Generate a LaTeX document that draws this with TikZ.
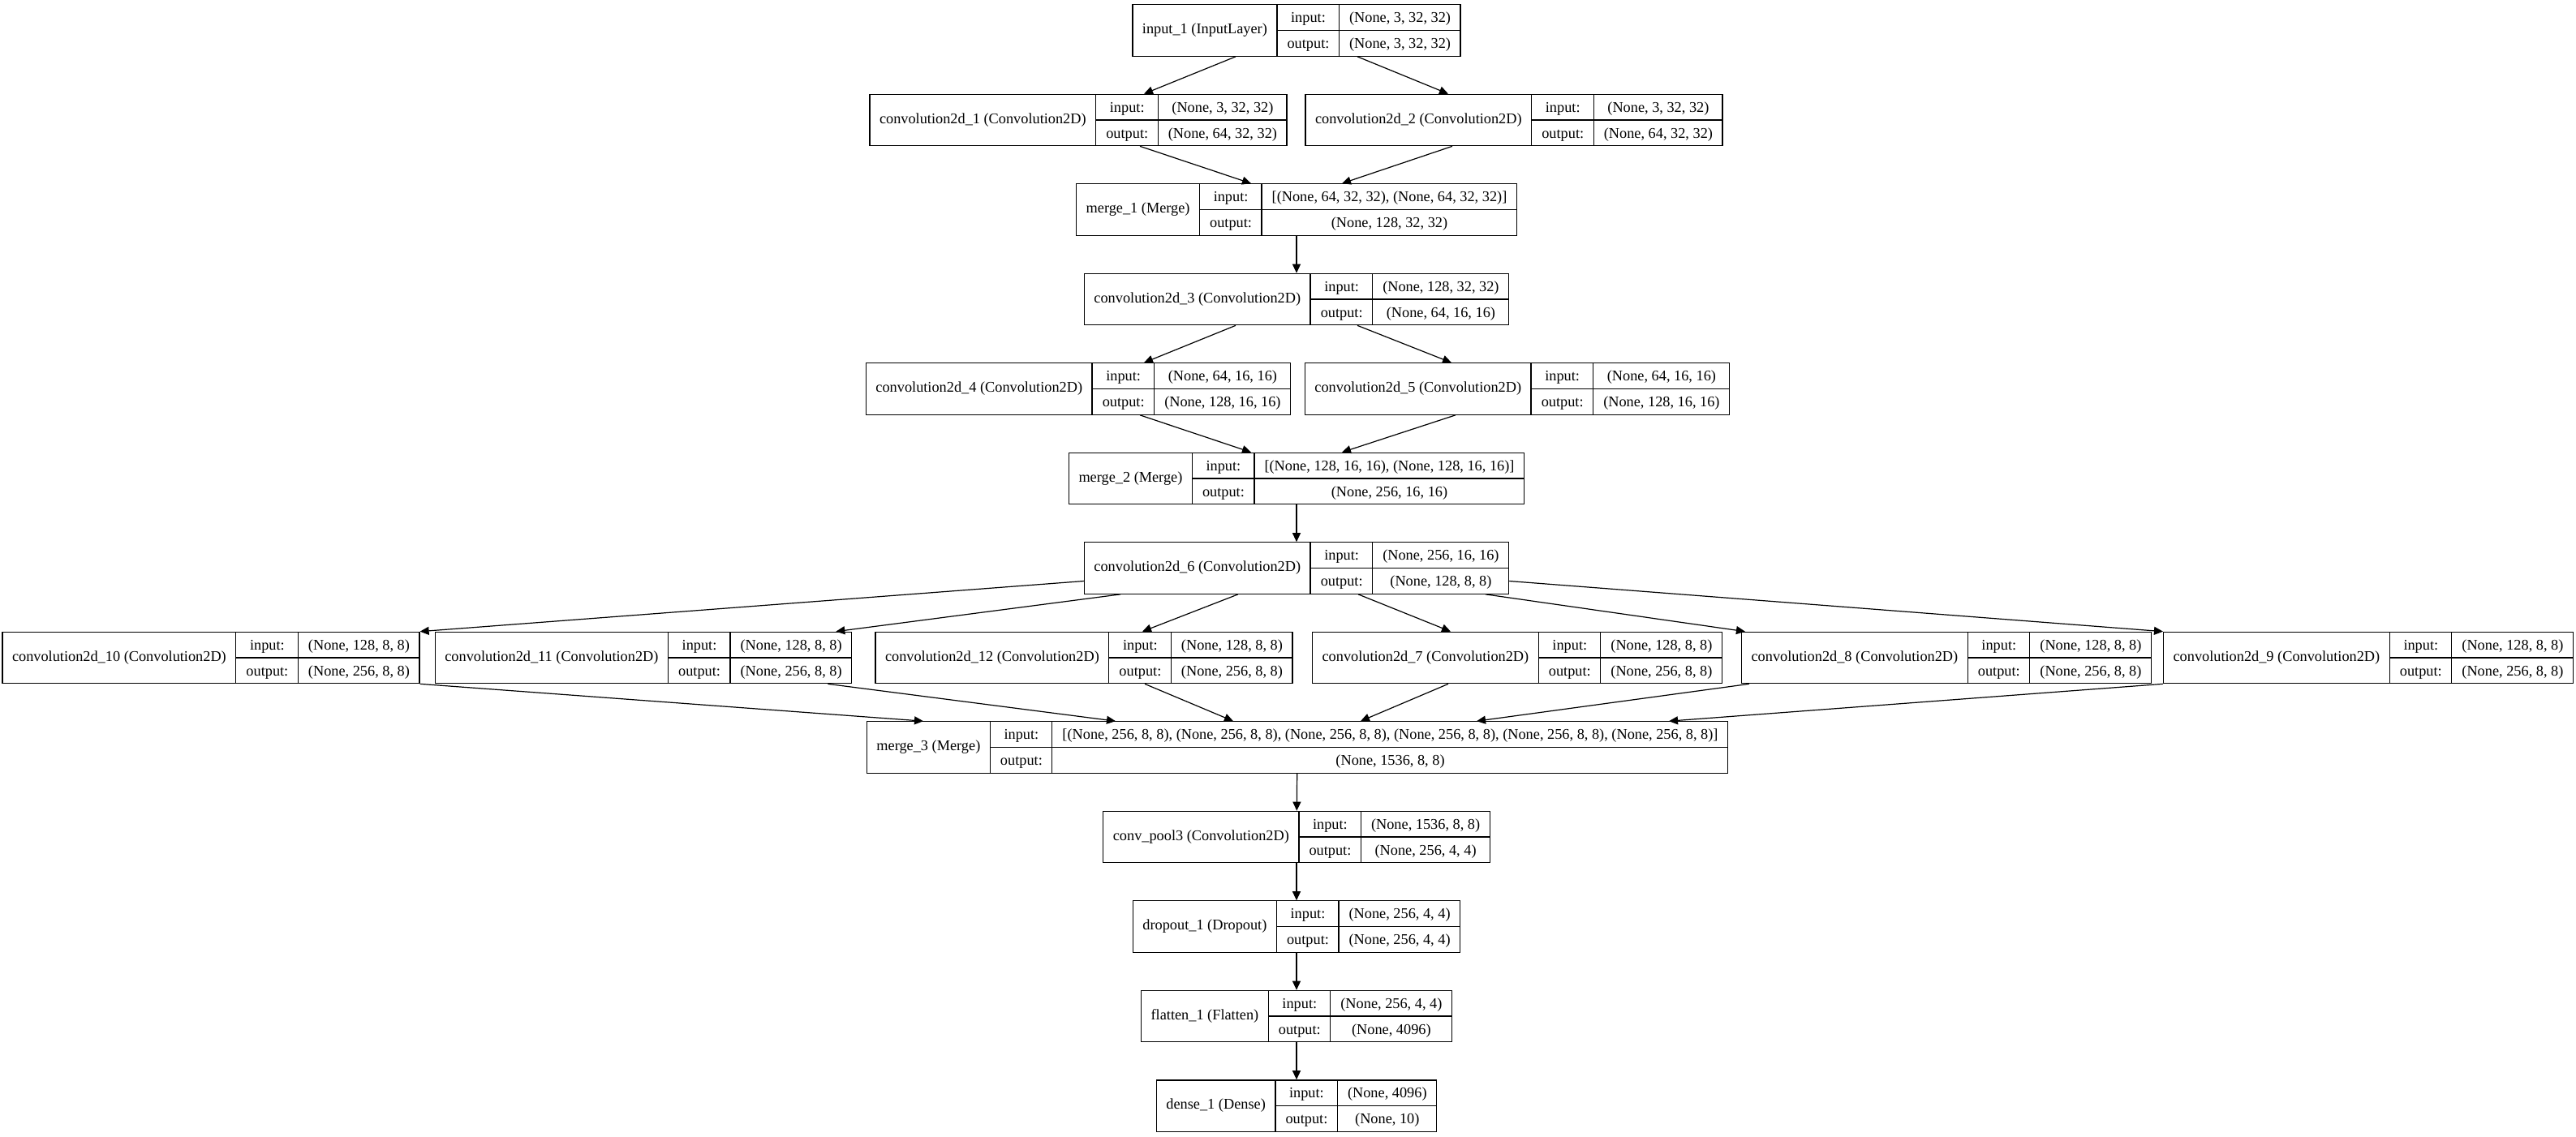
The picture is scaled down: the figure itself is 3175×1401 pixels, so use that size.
\documentclass[tikz,border=0pt]{standalone}
\usepackage{fontspec}
\setmainfont{Liberation Serif}
\usetikzlibrary{arrows.meta}

\renewcommand{\arraystretch}{1.41}
\setlength{\tabcolsep}{12pt}
\setlength{\arrayrulewidth}{1.3pt}

% layer table: name | input:/output: | shapes
\newcommand{\lyr}[3]{%
  \begin{tabular}{c|@{}c@{}|@{}c@{}}
    #1 &
    \begin{tabular}{c} input: \\ \hline output: \end{tabular} &
    \begin{tabular}{c} #2 \\ \hline #3 \end{tabular}
  \end{tabular}}

\tikzset{
  layer/.style={draw, line width=1.3pt, inner sep=0pt, fill=white,
    font=\fontsize{18.3}{22}\selectfont},
  conn/.style={line width=1.2pt, -{Triangle[length=11pt,width=10pt]}},
}

\begin{document}
\begin{tikzpicture}[x=1pt, y=-1pt]

    \fill[white] (0,0) rectangle (3175,1401);

    % Input and first branch
    \node[layer] (in1) at (1598, 37.5) {\lyr{input\_1 (InputLayer)}{(None, 3, 32, 32)}{(None, 3, 32, 32)}};
    \node[layer] (c1) at (1329, 148) {\lyr{convolution2d\_1 (Convolution2D)}{(None, 3, 32, 32)}{(None, 64, 32, 32)}};
    \node[layer] (c2) at (1866, 148) {\lyr{convolution2d\_2 (Convolution2D)}{(None, 3, 32, 32)}{(None, 64, 32, 32)}};
    \node[layer] (m1) at (1598, 258.5) {\lyr{merge\_1 (Merge)}{[(None, 64, 32, 32), (None, 64, 32, 32)]}{(None, 128, 32, 32)}};

    % Second branch
    \node[layer] (c3) at (1598, 369) {\lyr{convolution2d\_3 (Convolution2D)}{(None, 128, 32, 32)}{(None, 64, 16, 16)}};
    \node[layer] (c4) at (1329, 479.5) {\lyr{convolution2d\_4 (Convolution2D)}{(None, 64, 16, 16)}{(None, 128, 16, 16)}};
    \node[layer] (c5) at (1870, 479.5) {\lyr{convolution2d\_5 (Convolution2D)}{(None, 64, 16, 16)}{(None, 128, 16, 16)}};
    \node[layer] (m2) at (1598, 590) {\lyr{merge\_2 (Merge)}{[(None, 128, 16, 16), (None, 128, 16, 16)]}{(None, 256, 16, 16)}};

    % Third branch, six convolutions
    \node[layer] (c6) at (1598, 700.5) {\lyr{convolution2d\_6 (Convolution2D)}{(None, 256, 16, 16)}{(None, 128, 8, 8)}};
    \foreach \n/\x in {10/260, 11/793, 12/1336, 7/1870, 8/2399, 9/2919} {
        \node[layer] (c\n) at (\x, 811) {\lyr{convolution2d\_\n\ (Convolution2D)}{(None, 128, 8, 8)}{(None, 256, 8, 8)}};
    }
    \node[layer] (m3) at (1599, 921.5) {\lyr{merge\_3 (Merge)}{[(None, 256, 8, 8), (None, 256, 8, 8), (None, 256, 8, 8), (None, 256, 8, 8), (None, 256, 8, 8), (None, 256, 8, 8)]}{(None, 1536, 8, 8)}};

    % Head
    \node[layer] (p3) at (1598, 1032) {\lyr{conv\_pool3 (Convolution2D)}{(None, 1536, 8, 8)}{(None, 256, 4, 4)}};
    \node[layer] (d1) at (1598, 1142.5) {\lyr{dropout\_1 (Dropout)}{(None, 256, 4, 4)}{(None, 256, 4, 4)}};
    \node[layer] (f1) at (1598, 1253) {\lyr{flatten\_1 (Flatten)}{(None, 256, 4, 4)}{(None, 4096)}};
    \node[layer] (den) at (1598, 1363.5) {\lyr{dense\_1 (Dense)}{(None, 4096)}{(None, 10)}};

    % Connections
    \draw[conn] ([xshift=-75]in1.south) -- ([xshift=81]c1.north);
    \draw[conn] ([xshift=75]in1.south) -- ([xshift=-81]c2.north);
    \draw[conn] ([xshift=76]c1.south) -- ([xshift=-56]m1.north);
    \draw[conn] ([xshift=-76]c2.south) -- ([xshift=56]m1.north);
    \draw[conn] (m1) -- (c3);
    \draw[conn] ([xshift=-75]c3.south) -- ([xshift=81]c4.north);
    \draw[conn] ([xshift=75]c3.south) -- ([xshift=-81]c5.north);
    \draw[conn] ([xshift=76]c4.south) -- ([xshift=-56]m2.north);
    \draw[conn] ([xshift=-76]c5.south) -- ([xshift=56]m2.north);
    \draw[conn] (m2) -- (c6);

    \draw[conn] ([yshift=-16]c6.west) -- (c10.north east);
    \draw[conn] ([xshift=-217]c6.south) -- ([xshift=-20]c11.north east);
    \draw[conn] ([xshift=-72]c6.south) -- ([xshift=72]c12.north);
    \draw[conn] ([xshift=76]c6.south) -- ([xshift=-82]c7.north);
    \draw[conn] ([xshift=233]c6.south) -- ([xshift=5]c8.north west);
    \draw[conn] ([yshift=-16]c6.east) -- (c9.north west);

    \draw[conn] (c10.south east) -- ([xshift=-461]m3.north);
    \draw[conn] ([xshift=-30]c11.south east) -- ([xshift=-224]m3.north);
    \draw[conn] ([xshift=75]c12.south) -- ([xshift=-79]m3.north);
    \draw[conn] ([xshift=-85]c7.south) -- ([xshift=78]m3.north);
    \draw[conn] ([xshift=10]c8.south west) -- ([xshift=221]m3.north);
    \draw[conn] (c9.south west) -- ([xshift=458]m3.north);

    \draw[conn] (m3) -- (p3);
    \foreach \a/\b in {p3/d1, d1/f1, f1/den} {
        \draw[conn] (\a) -- (\b);
    }

\end{tikzpicture}
\end{document}
